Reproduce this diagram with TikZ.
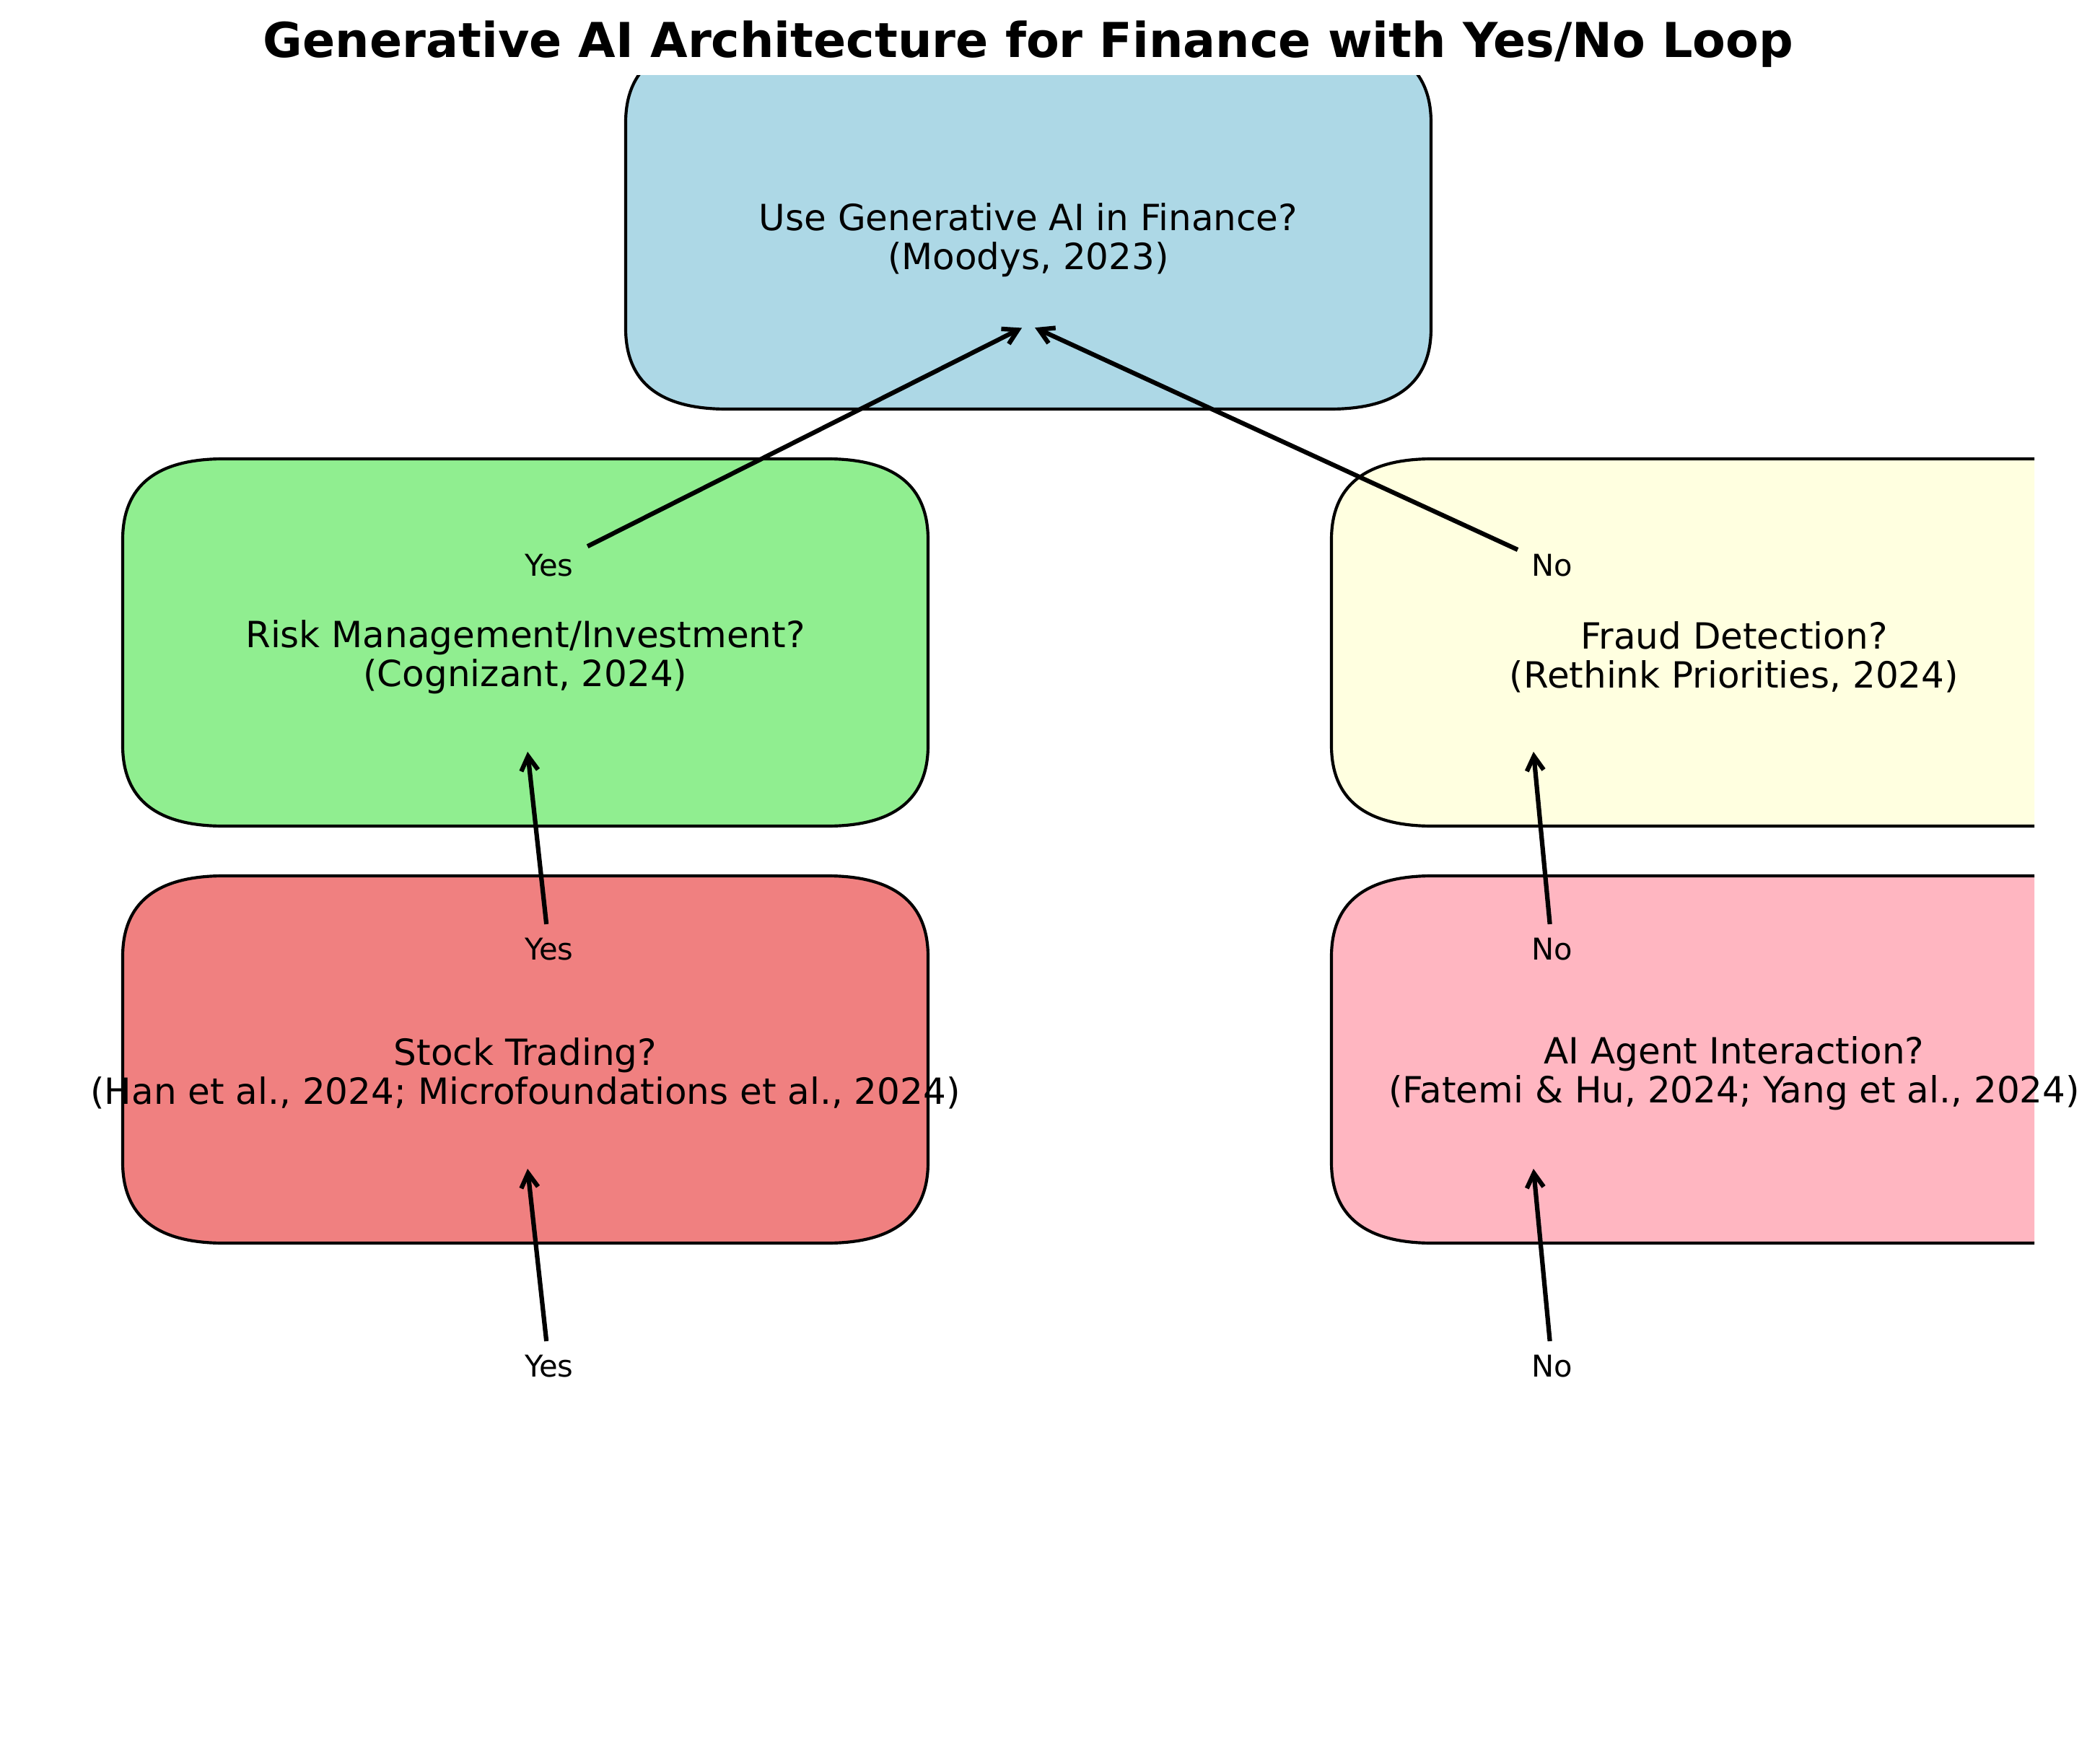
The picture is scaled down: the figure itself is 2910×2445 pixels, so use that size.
\documentclass[tikz,border=0pt]{standalone}
\usepackage{fontspec}
\setmainfont{DejaVu Sans}
\usetikzlibrary{arrows.meta}

\definecolor{boxblue}{HTML}{ADD8E6}
\definecolor{boxgreen}{HTML}{90EE90}
\definecolor{boxyellow}{HTML}{FFFFE0}
\definecolor{boxcoral}{HTML}{F08080}
\definecolor{boxpink}{HTML}{FFB6C1}

% rounded box: left, top, fill colour
\newcommand{\finbox}[3]{%
\filldraw[boxline, fill=#3] ({#1+140},#2) -- ({#1+976},#2)
  .. controls ({#1+1069.3},#2) and ({#1+1116},{#2+37.3}) .. ({#1+1116},{#2+112})
  -- ({#1+1116},{#2+397})
  .. controls ({#1+1116},{#2+471.7}) and ({#1+1069.3},{#2+509}) .. ({#1+976},{#2+509})
  -- ({#1+140},{#2+509})
  .. controls ({#1+46.7},{#2+509}) and (#1,{#2+471.7}) .. (#1,{#2+397})
  -- (#1,{#2+112})
  .. controls (#1,{#2+37.3}) and ({#1+46.7},#2) .. cycle;}

\begin{document}
\begin{tikzpicture}[x=0.24pt, y=-0.24pt,
  boxline/.style={black, line width=1pt},
  boxtext/.style={align=center, font=\fontsize{12}{12.96}\selectfont},
  answer/.style={inner sep=4.5pt, font=\fontsize{10}{11}\selectfont},
  yesno/.style={black, line width=1.5pt, -{Straight Barb[length=4.8pt,width=5.6pt]}, shorten >=2.4pt}]
\useasboundingbox (0,0) rectangle (2910,2445);

\node[font=\fontsize{16}{18}\selectfont\bfseries, anchor=base] (title) at (1425,80)
  {Generative AI Architecture for Finance with Yes/No Loop};

% boxes, cut at the plot area
\begin{scope}
\clip (0,105) rectangle (2819,2445);
\finbox{867}{58}{boxblue}
\finbox{170}{636}{boxgreen}
\finbox{1845}{636}{boxyellow}
\finbox{170}{1214}{boxcoral}
\finbox{1845}{1214}{boxpink}
\end{scope}

\node[boxtext] (finance) at (1425,333) {Use Generative AI in Finance?\\(Moodys, 2023)};
\node[boxtext] (risk) at (728,911) {Risk Management/Investment?\\(Cognizant, 2024)};
\node[boxtext] (fraud) at (2403,911) {Fraud Detection?\\(Rethink Priorities, 2024)};
\node[boxtext] (stock) at (728,1488) {Stock Trading?\\(Han et al., 2024; Microfoundations et al., 2024)};
\node[boxtext] (agent) at (2403,1488) {AI Agent Interaction?\\(Fatemi \& Hu, 2024; Yang et al., 2024)};

\node[answer] (yes1) at (761,784) {Yes};
\node[answer] (no1) at (2151,784) {No};
\node[answer] (yes2) at (761,1316) {Yes};
\node[answer] (no2) at (2151,1316) {No};
\node[answer] (yes3) at (761,1894) {Yes};
\node[answer] (no3) at (2151,1894) {No};

\coordinate (finance in) at (1425,450);
\coordinate (risk in) at (730,1032);
\coordinate (fraud in) at (2124,1032);
\coordinate (stock in) at (730,1610);
\coordinate (agent in) at (2124,1610);

\draw[yesno] (yes1) -- (finance in);
\draw[yesno] (no1) -- (finance in);
\draw[yesno] (yes2) -- (risk in);
\draw[yesno] (no2) -- (fraud in);
\draw[yesno] (yes3) -- (stock in);
\draw[yesno] (no3) -- (agent in);
\end{tikzpicture}
\end{document}
